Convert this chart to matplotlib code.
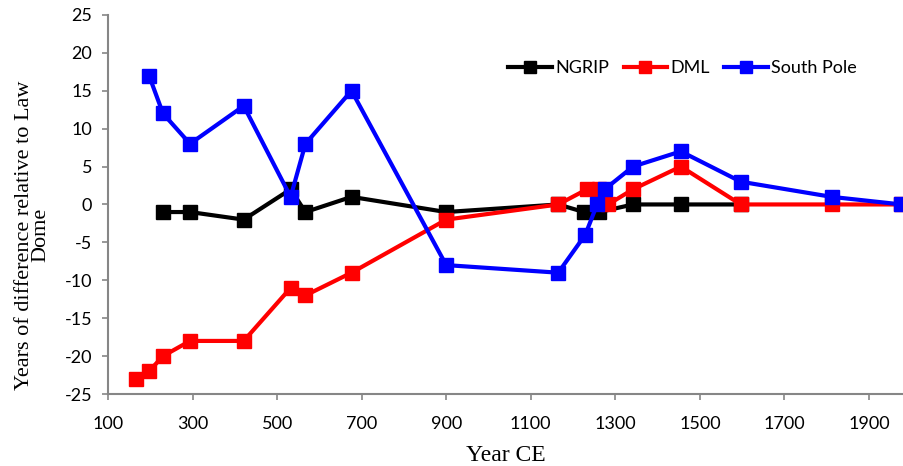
import matplotlib
matplotlib.use('Agg')
import matplotlib.pyplot as plt

plt.rcParams['axes.unicode_minus'] = False

ngrip_years = [230, 294, 421, 532, 567, 676, 900, 1165, 1226, 1262, 1342, 1455, 1597]
ngrip_diff = [-1, -1, -2, 2, -1, 1, -1, 0, -1, -1, 0, 0, 0]

dml_years = [166, 197, 230, 294, 421, 532, 567, 676, 900, 1165, 1233, 1262, 1283, 1342, 1455, 1597, 1812, 1977]
dml_diff = [-23, -22, -20, -18, -18, -11, -12, -9, -2, 0, 2, 2, 0, 2, 5, 0, 0, 0]

sp_years = [197, 230, 294, 421, 532, 567, 676, 900, 1165, 1229, 1257, 1275, 1342, 1455, 1597, 1812, 1977]
sp_diff = [17, 12, 8, 13, 1, 8, 15, -8, -9, -4, 0, 2, 5, 7, 3, 1, 0]

fig = plt.figure(figsize=(9.04, 4.66), dpi=100)
ax = fig.add_axes([0.1195, 0.1545, 0.8805, 0.8135])

ax.plot(ngrip_years, ngrip_diff, color='black', lw=3, marker='s', ms=10.5, label='NGRIP')
ax.plot(dml_years, dml_diff, color='#ff0000', lw=3, marker='s', ms=10.5, label='DML')
ax.plot(sp_years, sp_diff, color='#0000ff', lw=3, marker='s', ms=10.5, label='South Pole')

ax.set_xlim(100, 1983)
ax.set_ylim(-25, 25)
ax.set_xticks(range(100, 2000, 200))
ax.set_yticks(range(-25, 30, 5))

for s in ['top', 'right']:
    ax.spines[s].set_visible(False)
for s in ['left', 'bottom']:
    ax.spines[s].set_color('#868686')
    ax.spines[s].set_linewidth(1.5)
ax.tick_params(colors='#868686', length=4.5, width=1.2, labelcolor='black', labelsize=13)
for lab in ax.get_xticklabels() + ax.get_yticklabels():
    lab.set_family('Lato')
ax.tick_params(axis='x', pad=11)
ax.tick_params(axis='y', pad=7)

ax.set_xlabel('Year CE', family='Liberation Serif', fontsize=17)
ax.xaxis.set_label_coords(0.5, -0.135)
ax.set_ylabel('Years of difference relative to Law\nDome', family='Liberation Serif',
              fontsize=16, linespacing=0.85)
ax.yaxis.set_label_coords(-0.072, 0.42)

ax.legend(loc='center', bbox_to_anchor=(0.722, 0.86), ncol=3, frameon=False,
          prop={'family': 'Lato', 'size': 13}, handlelength=2.4, handletextpad=0.2,
          columnspacing=0.8, markerscale=0.8)

fig.savefig('out.png', dpi=100)
